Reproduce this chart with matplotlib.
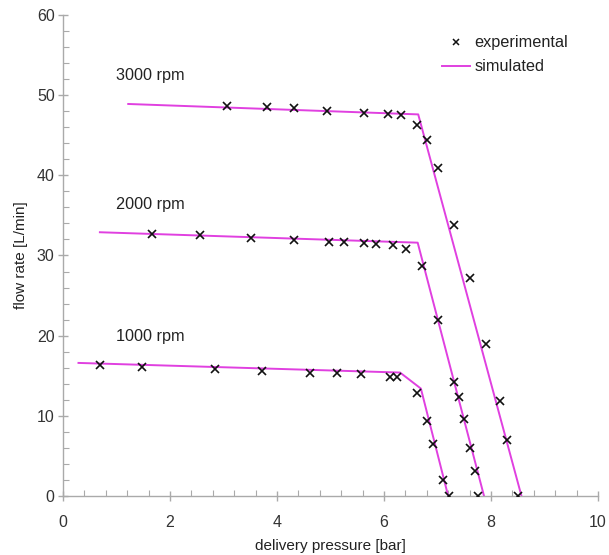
import matplotlib
matplotlib.use("Agg")
import matplotlib.pyplot as plt
from matplotlib.ticker import MultipleLocator

plt.rcParams['font.family'] = ['Liberation Sans', 'DejaVu Sans']

# Measured flow rate vs delivery pressure
p_1000 = [0.69, 1.47, 2.85, 3.72, 4.62, 5.12, 5.57, 6.11, 6.25, 6.61, 6.81, 6.91, 7.10, 7.21]
q_1000 = [16.3, 16.1, 15.8, 15.6, 15.4, 15.3, 15.2, 14.9, 14.8, 12.8, 9.4, 6.5, 2.0, 0.0]

p_2000 = [1.67, 2.57, 3.51, 4.32, 4.97, 5.26, 5.62, 5.86, 6.16, 6.42, 6.72, 7.01, 7.30, 7.41,
          7.50, 7.61, 7.70, 7.75]
q_2000 = [32.7, 32.55, 32.2, 31.9, 31.7, 31.65, 31.5, 31.45, 31.3, 30.8, 28.7, 22.0, 14.2, 12.4,
          9.6, 6.0, 3.1, 0.0]

p_3000 = [3.07, 3.82, 4.32, 4.93, 5.62, 6.07, 6.32, 6.61, 6.81, 7.01, 7.30, 7.61, 7.90, 8.16,
          8.30, 8.51]
q_3000 = [48.7, 48.5, 48.4, 48.05, 47.8, 47.7, 47.5, 46.3, 44.4, 40.9, 33.8, 27.2, 18.95, 11.9,
          7.0, 0.0]

# Simulated characteristics
sim_p_1000 = [0.29, 6.30, 6.69, 7.20]
sim_q_1000 = [16.6, 15.4, 13.4, 0.0]
sim_p_2000 = [0.69, 6.63, 7.87]
sim_q_2000 = [32.9, 31.6, 0.0]
sim_p_3000 = [1.22, 6.64, 8.57]
sim_q_3000 = [48.9, 47.6, 0.0]

speed_labels = ["1000 rpm", "2000 rpm", "3000 rpm"]
label_y = [19.9, 36.3, 52.4]

sim_color = "#e040e0"

fig = plt.figure(figsize=(6.09, 5.55), dpi=100)
ax = fig.add_axes([0.1034, 0.1063, 0.8785, 0.8667])

for sp, sq in [(sim_p_1000, sim_q_1000), (sim_p_2000, sim_q_2000), (sim_p_3000, sim_q_3000)]:
    ax.plot(sp, sq, color=sim_color, lw=1.4, zorder=2)
for p, q in [(p_1000, q_1000), (p_2000, q_2000), (p_3000, q_3000)]:
    ax.plot(p, q, ls="none", marker="x", color="#111111", ms=6, mew=1.2, zorder=3)

for lab, y in zip(speed_labels, label_y):
    ax.text(1.0, y, lab, fontsize=11.7, color="#222222", va="center", ha="left")

ax.set_xlim(0, 10)
ax.set_ylim(0, 60)
ax.xaxis.set_major_locator(MultipleLocator(2))
ax.xaxis.set_minor_locator(MultipleLocator(0.4))
ax.yaxis.set_major_locator(MultipleLocator(10))
ax.yaxis.set_minor_locator(MultipleLocator(2))

for s in ["top", "right"]:
    ax.spines[s].set_visible(False)
for s in ["left", "bottom"]:
    ax.spines[s].set_color("#aaaaaa")
    ax.spines[s].set_linewidth(1.0)

ax.tick_params(which="major", direction="inout", length=7, width=1.0, color="#aaaaaa",
               labelsize=11.5, labelcolor="#333333")
ax.tick_params(axis="y", which="major", pad=2.5)
ax.tick_params(axis="x", which="major", pad=10.5)
ax.tick_params(which="minor", direction="in", length=4, width=0.8, color="#aaaaaa")

ax.set_xlabel("delivery pressure [bar]", fontsize=11, color="#222222", labelpad=6.5)
ax.set_ylabel("flow rate [L/min]", fontsize=11, color="#222222", labelpad=6)

# Legend built from proxy handles
h_exp, = ax.plot([], [], ls="none", marker="x", color="#111111", ms=5, mew=1.1)
h_sim, = ax.plot([], [], color=sim_color, lw=1.4)
ax.legend([h_exp, h_sim], ["experimental", "simulated"], frameon=False, fontsize=11.7,
          loc="upper left", bbox_to_anchor=(7.08, 57.45), bbox_transform=ax.transData,
          borderpad=0, borderaxespad=0, handlelength=1.75, handletextpad=0.25,
          labelspacing=0.55, labelcolor="#222222")

fig.savefig("out.png", dpi=100)
